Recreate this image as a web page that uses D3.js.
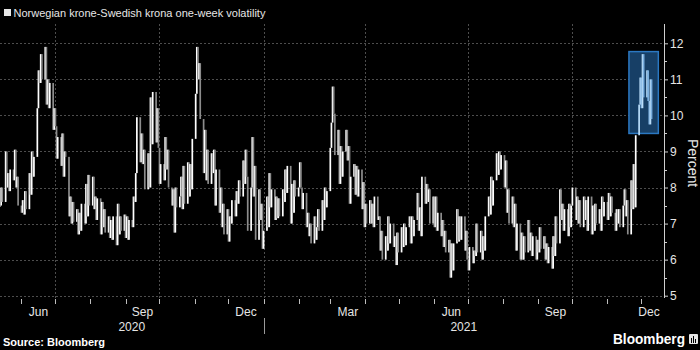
<!DOCTYPE html>
<html>
<head>
<meta charset="utf-8">
<script src="https://cdn.jsdelivr.net/npm/d3@7"></script>
<style>
  html, body { margin: 0; padding: 0; background: #000; }
  svg { display: block; }
  text { font-family: "Liberation Sans", Arial, sans-serif; }
</style>
</head>
<body>
<svg id="chart" width="700" height="350"></svg>
<script>
// ---- chart text ----
const titleText = "Norwegian krone-Swedish krona one-week volatility";
const sourceText = "Source: Bloomberg";
const axisTitle = "Percent";
const brandText = "Bloomberg";

// ---- axes ----
const yTicks = [5, 6, 7, 8, 9, 10, 11, 12];
const monthLabelMonths = ["2020-06", "2020-09", "2020-12", "2021-03", "2021-06", "2021-09", "2021-12"];
const yearLabels = ["2020", "2021"];
const domainStart = "2020-05-13";
const domainEnd = "2021-12-21";

// ---- daily closes, one value per weekday starting 2020-05-13 ----
const vol2020 = [
  // May
  7.5, 8.0, 7.6, 9.0, 8.0, 8.4, 7.9, 8.5, 8.2, 9.05, 8.0, 8.3, 7.5,
  // Jun
  7.3, 7.65, 7.25, 7.9, 7.4, 8.4, 7.8, 9.0, 8.3, 8.85, 10.2, 11.25, 10.9, 11.7, 11.0,
  11.9, 10.3, 11.0, 10.2, 10.9, 9.6, 10.2,
  // Jul
  9.7, 8.8, 9.4, 8.6, 9.5, 8.3, 9.0, 8.85, 7.2, 7.75, 7.0, 7.6, 7.05, 7.4, 6.7, 7.3,
  6.8, 7.55, 7.0, 8.1, 7.2, 8.35, 7.5,
  // Aug
  8.3, 7.4, 7.75, 7.1, 7.7, 6.7, 7.6, 6.9, 7.4, 6.75, 7.2, 6.6, 7.1, 6.55, 7.2, 6.4,
  7.55, 6.7, 7.2, 6.8, 7.25,
  // Sep
  6.6, 7.2, 6.55, 7.1, 6.9, 7.75, 7.6, 8.4, 9.95, 8.7, 9.5, 8.65, 9.05, 7.95, 8.95,
  8.0, 10.5, 9.2, 10.65, 9.25, 10.2, 9.1,
  // Oct
  8.1, 8.65, 8.2, 9.4, 8.5, 9.05, 8.0, 7.5, 7.95, 6.75, 8.0, 7.45, 7.75, 8.3, 7.4, 8.6,
  7.55, 8.7, 7.75, 8.65, 7.95, 9.35,
  // Nov
  10.6, 11.9, 11.0, 11.45, 9.9, 8.4, 9.6, 8.2, 9.05, 8.1, 8.95, 8.4, 9.05, 7.5, 8.5,
  7.3, 8.0, 6.9, 7.55, 6.7, 7.4,
  // Dec
  6.5, 7.2, 7.0, 7.65, 7.2, 7.9, 7.55, 8.2, 7.75, 8.75, 8.1, 9.05, 8.3, 6.8, 8.0, 9.4,
  7.75, 8.6, 6.55, 7.95, 7.1, 7.55, 6.3
];

const vol2021 = [
  // Jan
  6.8, 7.75, 6.9, 8.4, 7.45, 7.95, 7.1, 7.75, 7.15, 7.7, 7.2, 7.95, 7.6, 8.5, 7.85,
  8.6, 7.0, 8.1, 7.3, 8.2, 7.75,
  // Feb
  8.0, 8.7, 8.0, 7.4, 7.85, 6.9, 7.3, 6.65, 7.0, 6.45, 7.2, 6.55, 6.9, 7.4, 6.8, 7.65,
  7.1, 8.0, 7.45, 7.9,
  // Mar
  9.1, 9.8, 10.8, 10.05, 8.9, 9.6, 8.1, 9.15, 8.3, 9.0, 9.6, 8.75, 9.15, 7.55, 8.3,
  8.65, 7.8, 8.6, 7.75, 8.5, 7.4, 8.15, 6.9,
  // Apr
  7.55, 7.0, 7.65, 7.0, 7.55, 6.9, 7.75, 7.1, 7.2, 6.25, 6.8, 6.0, 6.65, 6.25, 7.2,
  6.45, 7.0, 6.35, 6.65, 5.85, 6.75, 6.2,
  // May
  6.9, 6.35, 7.0, 6.4, 6.9, 7.2, 6.45, 7.2, 6.65, 7.1, 7.85, 6.8, 7.45, 6.65, 8.3,
  7.55, 8.1, 7.6, 7.95, 7.0, 7.75,
  // Jun
  6.9, 7.75, 6.8, 7.3, 6.65, 7.1, 6.35, 6.8, 6.2, 6.55, 5.5, 6.45, 5.7, 6.45, 7.4,
  6.5, 7.2, 6.55, 7.2, 6.25, 6.8, 6.0,
  // Jul
  5.7, 6.35, 5.9, 6.25, 6.1, 7.0, 6.2, 6.8, 6.0, 6.65, 6.25, 7.2, 7.75, 7.25, 8.3,
  7.5, 8.2, 8.95, 8.35, 9.0, 8.5, 8.9,
  // Aug
  8.0, 8.75, 7.3, 7.95, 7.0, 7.75, 6.9, 7.55, 6.25, 7.0, 6.0, 6.75, 6.0, 6.65, 6.2,
  7.1, 6.25, 6.75, 6.1, 6.65, 6.0, 6.55,
  // Sep
  6.2, 6.9, 6.3, 6.65, 6.0, 6.45, 5.9, 6.35, 5.75, 6.65, 6.1, 7.2, 6.45, 7.95, 7.1,
  7.55, 6.8, 7.4, 6.65, 7.55, 6.9, 7.5,
  // Oct
  8.0, 7.1, 7.75, 7.0, 7.65, 6.9, 7.75, 7.1, 7.65, 6.8, 7.75, 6.7, 7.5, 6.8, 7.55,
  7.0, 7.4, 6.8, 7.75, 7.2, 7.6,
  // Nov
  7.1, 7.85, 7.2, 7.75, 7.3, 6.8, 7.4, 7.0, 7.4, 6.9, 7.5, 7.95, 7.2, 7.65, 6.7, 8.2,
  7.4, 8.65, 7.45, 9.45
];

// ---- latest two weeks, highlighted; weekdays from 2021-11-29 ----
const recentStart = "2021-11-29";
const volRecent = [10.3, 11.05, 10.2, 11.7, 10.5, 11.25, 10.4, 9.75, 11.0, 9.9];

// ---- layout ----
const W = 700, H = 350;
const plotLeft = 0, plotRight = 664, plotTop = 24, plotBottom = 298;

const parse = d3.utcParse("%Y-%m-%d");
const parseMonth = d3.utcParse("%Y-%m");

function weekdaysFrom(startStr, n) {
  const out = [];
  let d = parse(startStr);
  while (out.length < n) {
    const wd = d.getUTCDay();
    if (wd !== 0 && wd !== 6) out.push(d);
    d = d3.utcDay.offset(d, 1);
  }
  return out;
}

const mainVals = vol2020.concat(vol2021);
const mainDates = weekdaysFrom(domainStart, mainVals.length);
const mainData = mainVals.map((v, i) => ({ date: mainDates[i], v, prev: i ? mainVals[i - 1] : v }));

const recentDates = weekdaysFrom(recentStart, volRecent.length);
const lastMain = mainVals[mainVals.length - 1];
const recentData = volRecent.map((v, i) => ({ date: recentDates[i], v, prev: i ? volRecent[i - 1] : lastMain }));

const x = d3.scaleUtc().domain([parse(domainStart), parse(domainEnd)]).range([plotLeft, plotRight]);
const y = d3.scaleLinear().domain([5, 12]).range([295.7, 43.3]);

const svg = d3.select("#chart");
svg.append("rect").attr("width", W).attr("height", H).attr("fill", "#000");

// ---- gridlines ----
const grid = svg.append("g").attr("stroke", "#4d4d4d").attr("stroke-width", 1).attr("stroke-dasharray", "2,2");
grid.selectAll("line.h").data(yTicks).join("line")
  .attr("x1", plotLeft).attr("x2", plotRight)
  .attr("y1", d => Math.round(y(d)) + 0.5).attr("y2", d => Math.round(y(d)) + 0.5);
const quarterStarts = d3.utcMonth.every(3).range(x.domain()[0], x.domain()[1]);
grid.selectAll("line.v").data(quarterStarts).join("line")
  .attr("x1", d => Math.round(x(d)) + 0.5).attr("x2", d => Math.round(x(d)) + 0.5)
  .attr("y1", plotTop).attr("y2", plotBottom + 4);

// ---- daily bars (previous close to close) ----
const barW = 1.7;
function drawBars(g, data, upColor, downColor) {
  g.selectAll("rect").data(data).join("rect")
    .attr("x", d => x(d.date) - barW / 2)
    .attr("width", barW)
    .attr("y", d => y(Math.max(d.v, d.prev)))
    .attr("height", d => Math.max(1, Math.abs(y(d.v) - y(d.prev))))
    .attr("fill", d => d.v >= d.prev ? upColor : downColor);
}
drawBars(svg.append("g"), mainData, "#ffffff", "#8c8c8c");

// ---- highlight box around the latest readings ----
const rMin = d3.min(volRecent), rMax = d3.max(volRecent);
const boxX0 = x(d3.utcDay.offset(recentDates[0], -9));
const boxX1 = x(d3.utcDay.offset(recentDates[recentDates.length - 1], 6));
svg.append("rect")
  .attr("x", boxX0).attr("y", y(rMax + 0.07))
  .attr("width", boxX1 - boxX0).attr("height", y(rMin - 0.25) - y(rMax + 0.07))
  .attr("fill", "#173f66").attr("stroke", "#2b78c2").attr("stroke-width", 1.5);
drawBars(svg.append("g"), recentData, "#b9dcf8", "#7aaede");

// ---- right axis ----
svg.append("line")
  .attr("x1", plotRight + 0.5).attr("x2", plotRight + 0.5)
  .attr("y1", plotTop).attr("y2", plotBottom)
  .attr("stroke", "#cfcfcf");
const yAxis = svg.append("g").attr("transform", `translate(${plotRight},0)`)
  .call(d3.axisRight(y).tickValues(yTicks).tickSize(4).tickPadding(2).tickFormat(d3.format("d")));
yAxis.select(".domain").remove();
yAxis.selectAll(".tick line").attr("stroke", "#cfcfcf");
yAxis.selectAll(".tick text")
  .attr("fill", "#e6e6e6").attr("font-size", 12)
  .attr("font-family", "'Liberation Sans', Arial, sans-serif");
const minorTicks = d3.range(5.5, 12, 1);
svg.append("g").selectAll("line").data(minorTicks).join("line")
  .attr("x1", plotRight).attr("x2", plotRight + 3)
  .attr("y1", d => Math.round(y(d)) + 0.5).attr("y2", d => Math.round(y(d)) + 0.5)
  .attr("stroke", "#cfcfcf");

svg.append("text")
  .attr("transform", "translate(691.5,163) rotate(90)")
  .attr("text-anchor", "middle").attr("dominant-baseline", "middle")
  .attr("font-size", 14).attr("fill", "#e6e6e6")
  .text(axisTitle);

// ---- bottom axis: month ticks, quarter labels, years ----
const monthStarts = d3.utcMonth.range(x.domain()[0], x.domain()[1]);
svg.append("g").selectAll("line").data(monthStarts).join("line")
  .attr("x1", d => Math.round(x(d)) + 0.5).attr("x2", d => Math.round(x(d)) + 0.5)
  .attr("y1", plotBottom + 1).attr("y2", plotBottom + 6)
  .attr("stroke", "#bdbdbd");

const fmtMonth = d3.utcFormat("%b");
svg.append("g").selectAll("text").data(monthLabelMonths.map(parseMonth)).join("text")
  .attr("x", d => {
    const a = Math.max(x(d), plotLeft);
    const b = Math.min(x(d3.utcMonth.offset(d, 1)), plotRight);
    return Math.min((a + b) / 2, plotRight - 15);
  })
  .attr("y", 316)
  .attr("text-anchor", "middle").attr("font-size", 12).attr("fill", "#e6e6e6")
  .text(d => fmtMonth(d));

const yearBounds = yearLabels.map(yr => {
  const a = Math.max(x(d3.utcParse("%Y")(yr)), plotLeft);
  const b = Math.min(x(d3.utcParse("%Y")(String(+yr + 1))), plotRight);
  return { yr, a, b };
});
svg.append("g").selectAll("text").data(yearBounds).join("text")
  .attr("x", d => (d.a + d.b) / 2).attr("y", 331)
  .attr("text-anchor", "middle").attr("font-size", 12).attr("fill", "#e6e6e6")
  .text(d => d.yr);
svg.append("g").selectAll("line").data(yearBounds.slice(1)).join("line")
  .attr("x1", d => Math.round(d.a) + 0.5).attr("x2", d => Math.round(d.a) + 0.5)
  .attr("y1", 318).attr("y2", 334)
  .attr("stroke", "#9a9a9a");

// ---- title ----
svg.append("rect").attr("x", 4).attr("y", 9).attr("width", 7).attr("height", 7).attr("fill", "#e6e6e6");
svg.append("text").attr("x", 13.5).attr("y", 17)
  .attr("font-size", 11).attr("fill", "#e6e6e6")
  .text(titleText);

// ---- footer ----
svg.append("text").attr("x", 3).attr("y", 346)
  .attr("font-size", 11).attr("font-weight", "bold").attr("fill", "#ffffff")
  .text(sourceText);
svg.append("text").attr("x", 613).attr("y", 344)
  .attr("font-size", 14).attr("font-weight", "bold").attr("fill", "#ffffff")
  .attr("textLength", 72).attr("lengthAdjust", "spacingAndGlyphs")
  .text(brandText);
const logo = svg.append("g").attr("transform", "translate(689,334)");
logo.append("rect").attr("width", 9).attr("height", 10).attr("rx", 1).attr("fill", "#e6e6e6");
[[2, 4, 5], [4, 2, 7], [6, 5, 4]].forEach(([bx, by, bh]) => {
  logo.append("rect").attr("x", bx).attr("y", by).attr("width", 1).attr("height", bh).attr("fill", "#000");
});
</script>
</body>
</html>
